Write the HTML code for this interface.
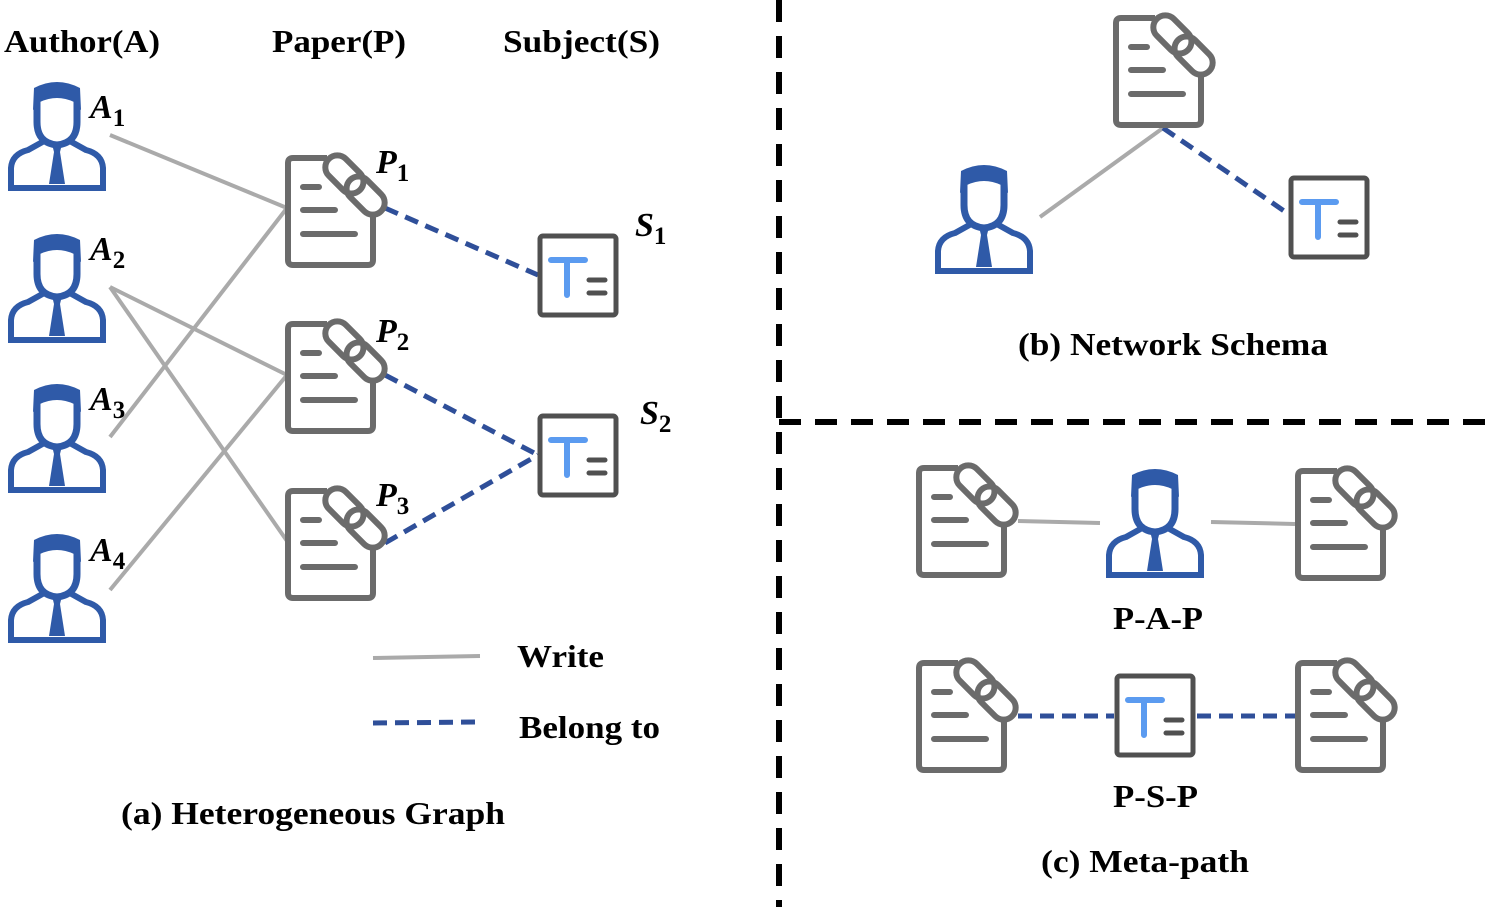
<!DOCTYPE html>
<html><head><meta charset="utf-8"><style>
body{margin:0;background:#fff}
svg{display:block}
text{font-family:"Liberation Serif",serif;font-weight:bold;fill:#000}
</style></head><body>
<svg width="1495" height="907" viewBox="0 0 1495 907">
<defs>
<g id="au">
 <path d="M26 8 Q49 -4 72 8 L73 30 L66 22 Q49 14 32 22 L25 30 Z" fill="#2f5aa8"/>
 <path d="M29 20 L29 42 Q29 63 49 65 Q69 63 69 42 L69 20" fill="none" stroke="#2f5aa8" stroke-width="7"/>
 <path d="M3 108 L3 88 Q4 74 20 70 L38 60" fill="none" stroke="#2f5aa8" stroke-width="6"/>
 <path d="M95 108 L95 88 Q94 74 78 70 L60 60" fill="none" stroke="#2f5aa8" stroke-width="6"/>
 <path d="M0 108 L98 108" stroke="#2f5aa8" stroke-width="6"/>
 <path d="M44 64 L54 64 L52 72 L57 104 L41 104 L46 72 Z" fill="#2f5aa8"/>
</g>
<g id="pa">
 <path d="M42 6 L8 6 Q3 6 3 11 L3 108 Q3 113 8 113 L83 113 Q88 113 88 108 L88 62" fill="none" stroke="#6b6b6b" stroke-width="6"/>
 <path d="M18 35 L34 35 M18 58 L50 58 M18 82 L70 82" stroke="#6b6b6b" stroke-width="6" stroke-linecap="round"/>
 <g transform="rotate(-45 70 33)" fill="#fff" stroke="#6b6b6b" stroke-width="6">
  <rect x="58" y="-4" width="24" height="44" rx="12"/>
  <rect x="58" y="26" width="24" height="44" rx="12" fill="none"/>
 </g>
</g>
<g id="su">
 <rect x="3" y="3" width="76" height="79" rx="3" fill="#fff" stroke="#505050" stroke-width="5"/>
 <path d="M14 27 L48 27 M30 27 L30 62" stroke="#5b9bf0" stroke-width="6" stroke-linecap="round"/>
 <path d="M52 47 L68 47 M52 60 L68 60" stroke="#505050" stroke-width="5" stroke-linecap="round"/>
</g>
</defs>

<g stroke="#aaa" stroke-width="4">
 <line x1="110" y1="135" x2="287" y2="208"/>
 <line x1="110" y1="287" x2="287" y2="375"/>
 <line x1="110" y1="287" x2="287" y2="541"/>
 <line x1="110" y1="437" x2="287" y2="208"/>
 <line x1="110" y1="590" x2="287" y2="375"/>
 <line x1="373" y1="658" x2="480" y2="656"/>
 <line x1="1040" y1="217" x2="1163" y2="128"/>
 <line x1="1018" y1="521" x2="1100" y2="523"/>
 <line x1="1211" y1="522" x2="1295" y2="524"/>
</g>
<g stroke="#2f4f99" stroke-width="5" stroke-dasharray="14 8">
 <line x1="385" y1="208" x2="538" y2="275"/>
 <line x1="385" y1="375" x2="538" y2="455"/>
 <line x1="385" y1="543" x2="538" y2="455"/>
 <line x1="373" y1="723" x2="480" y2="722"/>
 <line x1="1163" y1="128" x2="1290" y2="215"/>
 <line x1="1018" y1="716" x2="1114" y2="716"/>
 <line x1="1197" y1="716" x2="1297" y2="716"/>
</g>
<g stroke="#000" stroke-width="6" stroke-dasharray="22 14">
 <line x1="779" y1="0" x2="779" y2="907"/>
 <line x1="779" y1="422" x2="1495" y2="422"/>
</g>

<use href="#au" x="8" y="80"/>
<use href="#au" x="8" y="232"/>
<use href="#au" x="8" y="382"/>
<use href="#au" x="8" y="532"/>
<use href="#au" x="935" y="163"/>
<use href="#au" x="1106" y="467"/>

<use href="#pa" x="285" y="152"/>
<use href="#pa" x="285" y="318"/>
<use href="#pa" x="285" y="485"/>
<use href="#pa" x="1113" y="12"/>
<use href="#pa" x="916" y="462"/>
<use href="#pa" x="1295" y="465"/>
<use href="#pa" x="916" y="657"/>
<use href="#pa" x="1295" y="657"/>

<use href="#su" x="537" y="233"/>
<use href="#su" x="537" y="413"/>
<use href="#su" x="1288" y="175"/>
<use href="#su" x="1114" y="673"/>

<g font-size="32" lengthAdjust="spacingAndGlyphs">
 <text x="4" y="52" textLength="156" lengthAdjust="spacingAndGlyphs">Author(A)</text>
 <text x="272" y="52" textLength="134" lengthAdjust="spacingAndGlyphs">Paper(P)</text>
 <text x="503" y="52" textLength="157" lengthAdjust="spacingAndGlyphs">Subject(S)</text>
 <text x="517" y="667" textLength="87" lengthAdjust="spacingAndGlyphs">Write</text>
 <text x="519" y="738" textLength="141" lengthAdjust="spacingAndGlyphs">Belong to</text>
 <text x="121" y="824" textLength="384" lengthAdjust="spacingAndGlyphs">(a) Heterogeneous Graph</text>
 <text x="1018" y="355" textLength="310" lengthAdjust="spacingAndGlyphs">(b) Network Schema</text>
 <text x="1113" y="629" textLength="90" lengthAdjust="spacingAndGlyphs">P-A-P</text>
 <text x="1113" y="807" textLength="85" lengthAdjust="spacingAndGlyphs">P-S-P</text>
 <text x="1041" y="872" textLength="208" lengthAdjust="spacingAndGlyphs">(c) Meta-path</text>
</g>
<g font-size="34" font-style="italic">
 <text x="90" y="118">A<tspan font-size="25" font-style="normal" dy="8">1</tspan></text>
 <text x="90" y="260">A<tspan font-size="25" font-style="normal" dy="8">2</tspan></text>
 <text x="90" y="410">A<tspan font-size="25" font-style="normal" dy="8">3</tspan></text>
 <text x="90" y="561">A<tspan font-size="25" font-style="normal" dy="8">4</tspan></text>
 <text x="376" y="173">P<tspan font-size="25" font-style="normal" dy="8">1</tspan></text>
 <text x="376" y="342">P<tspan font-size="25" font-style="normal" dy="8">2</tspan></text>
 <text x="376" y="506">P<tspan font-size="25" font-style="normal" dy="8">3</tspan></text>
 <text x="635" y="236">S<tspan font-size="25" font-style="normal" dy="8">1</tspan></text>
 <text x="640" y="424">S<tspan font-size="25" font-style="normal" dy="8">2</tspan></text>
</g>
</svg>
</body></html>
